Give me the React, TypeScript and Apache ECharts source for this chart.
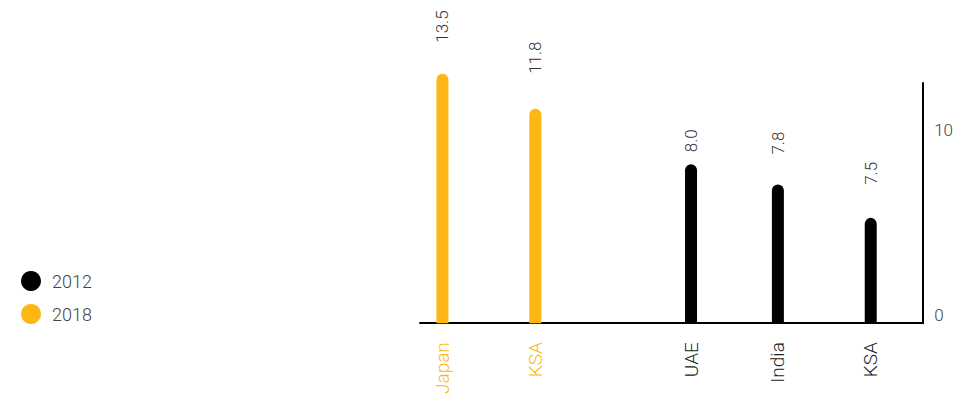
import React, { useEffect, useRef } from "react";
import * as echarts from "echarts";

// Data
const categories = ["Japan", "KSA", "UAE", "India", "KSA"];
const seriesOf = ["2018", "2018", "2012", "2012", "2012"];
const barValues = [13.5, 11.6, 8.6, 7.5, 5.7]; // heights as drawn
const valueLabels = ["13.5", "11.8", "8.0", "7.8", "7.5"];
const yTickLabels = ["0", "10"];

// Layout (not data)
const SLOT_COUNT = 168;
const slotIndex = [7, 38, 90, 119, 150];
const labelGap = [31, 35, 12, 30, 33];

const ORANGE = "#FDB714";
const BLACK = "#000000";
const FONT = "Roboto, 'Noto Sans', sans-serif";

export default function App() {
  const ref = useRef<HTMLDivElement>(null);
  useEffect(() => {
    if (!ref.current) return;
    const chart = echarts.init(ref.current, undefined, { renderer: "svg" });

    const xData: string[] = new Array(SLOT_COUNT).fill("");
    const xColor: string[] = new Array(SLOT_COUNT).fill("#333");
    categories.forEach((c, i) => {
      xData[slotIndex[i]] = c;
      xColor[slotIndex[i]] = seriesOf[i] === "2018" ? ORANGE : "#222";
    });

    const buildSeries = (name: string, color: string) => {
      const data: any[] = new Array(SLOT_COUNT).fill(null);
      categories.forEach((_, i) => {
        if (seriesOf[i] !== name) return;
        data[slotIndex[i]] = {
          value: barValues[i],
          label: { distance: labelGap[i], formatter: valueLabels[i] },
        };
      });
      return {
        name,
        type: "bar",
        data,
        barWidth: 12,
        barGap: "-100%",
        clip: false,
        itemStyle: { color, borderRadius: [6, 6, 0, 0] },
        label: {
          show: true,
          position: "top",
          rotate: 90,
          align: "left",
          verticalAlign: "middle",
          fontSize: 17,
          fontFamily: FONT,
          fontWeight: 300,
          color: "#333",
        },
      };
    };

    chart.setOption({
      animation: false,
      legend: {
        orient: "vertical",
        left: 16,
        top: 266,
        icon: "circle",
        itemWidth: 20,
        itemHeight: 20,
        itemGap: 13,
        data: ["2012", "2018"],
        textStyle: { fontSize: 18, fontFamily: FONT, fontWeight: 300, color: "#444", padding: [0, 0, 0, 6] },
      },
      grid: { left: 420, right: 32, top: 83, bottom: 73 },
      xAxis: {
        type: "category",
        data: xData,
        axisLine: { lineStyle: { color: "#000", width: 2 } },
        axisTick: { show: false },
        axisLabel: {
          interval: 0,
          rotate: 90,
          margin: 19,
          fontSize: 19,
          fontFamily: FONT,
          fontWeight: 300,
          color: (_v: any, idx: number) => xColor[idx],
        },
      },
      yAxis: {
        type: "value",
        position: "right",
        min: 0,
        max: 13,
        interval: 10,
        splitLine: { show: false },
        axisTick: { show: false },
        axisLine: { show: true, lineStyle: { color: "#000", width: 2 } },
        axisLabel: {
          margin: 11,
          verticalAlign: "bottom",
          fontSize: 17,
          fontFamily: FONT,
          fontWeight: 300,
          color: "#444",
          formatter: (v: number) => {
            const s = String(v);
            return yTickLabels.includes(s) ? s : "";
          },
        },
      },
      series: [buildSeries("2012", BLACK), buildSeries("2018", ORANGE)],
    });
    return () => chart.dispose();
  }, []);
  return <div ref={ref} style={{ width: 956, height: 397, position: "absolute", left: 0, top: 0 }} />;
}
